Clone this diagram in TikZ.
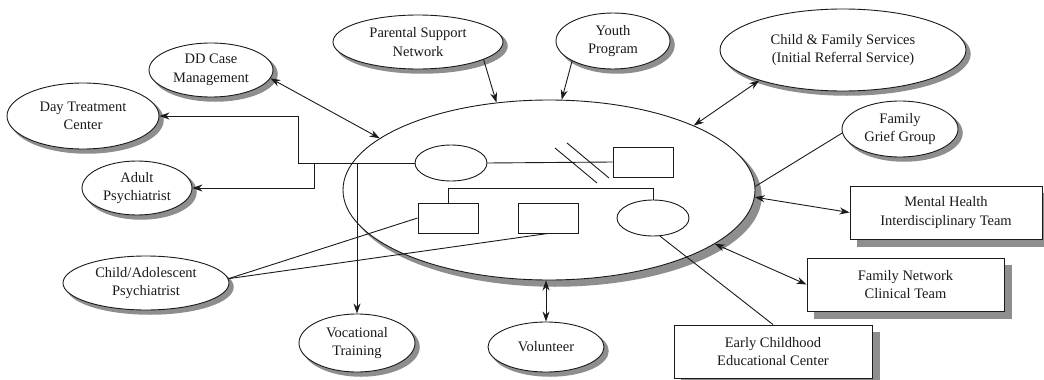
\documentclass[tikz,border=0pt]{standalone}
\usepackage{fontspec}
\setmainfont{Liberation Serif}
\usepackage{tikz}
\usetikzlibrary{arrows.meta,shapes.geometric}
\definecolor{ink}{HTML}{1A1A1A}
\definecolor{shadowgray}{HTML}{8E8E8E}

\begin{document}
\begin{tikzpicture}[
  x=1pt,
  y=-1pt,
  agency/.style={
    ellipse,inner sep=0pt,draw=ink,fill=white,line width=0.9pt,
    align=center,text=ink,font=\fontsize{14.5}{18.5}\selectfont
  },
  team/.style={
    rectangle,inner sep=0pt,draw=ink,fill=white,line width=0.9pt,
    align=center,text=ink,font=\fontsize{14.5}{18.5}\selectfont
  },
  female/.style={ellipse,inner sep=0pt,draw=ink,fill=white,line width=0.9pt,
    minimum width=72pt,minimum height=36pt},
  male/.style={rectangle,inner sep=0pt,draw=ink,fill=white,line width=0.9pt,
    minimum width=60pt,minimum height=30pt},
  oval/.style={ellipse,inner sep=0pt,fill=shadowgray,draw=shadowgray,line width=1.5pt},
  slab/.style={rectangle,inner sep=0pt,fill=shadowgray,draw=shadowgray,line width=0.9pt},
  link/.style={line width=0.9pt,draw=ink},
  oneway/.style={link,-{Stealth[length=10pt,width=7pt]}},
  twoway/.style={link,{Stealth[length=10pt,width=7pt]}-{Stealth[length=10pt,width=7pt]}}
]
  \useasboundingbox (0,0) rectangle (1044,380);

  % Shadows
  \node[oval,minimum width=412pt,minimum height=180pt] (family-shade) at (555,196) {};
  \node[oval,minimum width=124pt,minimum height=54pt] (dd-shade) at (215,74) {};
  \node[oval,minimum width=152pt,minimum height=66pt] (day-shade) at (87,120) {};
  \node[oval,minimum width=110pt,minimum height=54pt] (adult-shade) at (141,192) {};
  \node[oval,minimum width=166pt,minimum height=54pt] (cap-shade) at (150,287) {};
  \node[oval,minimum width=116pt,minimum height=58pt] (voc-shade) at (361,347) {};
  \node[oval,minimum width=116pt,minimum height=50pt] (vol-shade) at (550,351) {};
  \node[oval,minimum width=170pt,minimum height=54pt] (parent-shade) at (422,46) {};
  \node[oval,minimum width=114pt,minimum height=56pt] (youth-shade) at (617,45) {};
  \node[oval,minimum width=246pt,minimum height=82pt] (cfs-shade) at (847,54) {};
  \node[oval,minimum width=116pt,minimum height=56pt] (grief-shade) at (904,133) {};
  \node[slab,minimum width=192pt,minimum height=53pt] (mh-shade) at (953,219.5) {};
  \node[slab,minimum width=197pt,minimum height=53pt] (fn-shade) at (912.5,291.5) {};
  \node[slab,minimum width=198pt,minimum height=53pt] (early-shade) at (780,358.5) {};

  % Family
  \node[agency,minimum width=412pt,minimum height=180pt] (family) at (549,190) {};
  \node[female] (mother) at (451,163) {};
  \node[male] (partner) at (643,162) {};
  \node[male] (kid-a) at (448,218) {};
  \node[male] (kid-b) at (548,218) {};
  \node[female] (kid-c) at (653,218) {};
  \draw[link] (mother.east) -- (partner.west);
  \draw[link] (555,148) -- (597,183);
  \draw[link] (567,143) -- (609,178);
  \draw[link] (kid-a.north) -- ++(0,-14) -| (kid-c.north);

  % Agencies
  \node[agency,minimum width=124pt,minimum height=54pt] (dd) at (211,70) {DD Case\\Management};
  \node[agency,minimum width=152pt,minimum height=66pt] (day) at (83,116) {Day Treatment\\Center};
  \node[agency,minimum width=110pt,minimum height=54pt] (adult) at (137,188) {Adult\\Psychiatrist};
  \node[agency,minimum width=166pt,minimum height=54pt] (cap) at (146,283) {Child/Adolescent\\Psychiatrist};
  \node[agency,minimum width=116pt,minimum height=58pt] (voc) at (357,343) {Vocational\\Training};
  \node[agency,minimum width=116pt,minimum height=50pt] (vol) at (546,347) {Volunteer};
  \node[agency,minimum width=170pt,minimum height=54pt] (parent) at (418,42) {Parental Support\\Network};
  \node[agency,minimum width=114pt,minimum height=56pt] (youth) at (613,41) {Youth\\Program};
  \node[agency,minimum width=246pt,minimum height=82pt] (cfs) at (843,50) {Child \& Family Services\\(Initial Referral Service)};
  \node[agency,minimum width=116pt,minimum height=56pt] (grief) at (900,129) {Family\\Grief Group};

  % Teams
  \node[team,minimum width=192pt,minimum height=53pt] (mh) at (946,212.5) {Mental Health\\Interdisciplinary Team};
  \node[team,minimum width=197pt,minimum height=53pt] (fn) at (905.5,284.5) {Family Network\\Clinical Team};
  \node[team,minimum width=198pt,minimum height=53pt] (early) at (773,351.5) {Early Childhood\\Educational Center};

  % Connectors
  \coordinate (split-a) at (298,163);
  \coordinate (split-b) at (314,163);
  \coordinate (split-c) at (357,163);
  \draw[link] (mother.west) -- (split-a);
  \draw[oneway] (split-a) |- (day.east);
  \draw[oneway] (split-b) |- (adult.east);
  \draw[oneway] (split-c) -- (voc.north);
  \draw[link] (kid-a.west) -- (cap.3);
  \draw[link] (kid-b.south) -- (cap.3);
  \draw[link] (kid-c.-69) -- (early.north);
  \draw[twoway] (dd.-8) -- (family.163);
  \draw[oneway] (parent.-15) -- (family.121);
  \draw[oneway] (youth.206) -- (family.82);
  \draw[twoway] (cfs.200) -- (family.24);
  \draw[link] (grief.184) -- (family.1);
  \draw[twoway] (family.-2) -- (mh.west);
  \draw[twoway] (family.-18) -- (fn.west);
  \draw[twoway] (vol.north |- family.south) -- (vol.north);
\end{tikzpicture}
\end{document}
